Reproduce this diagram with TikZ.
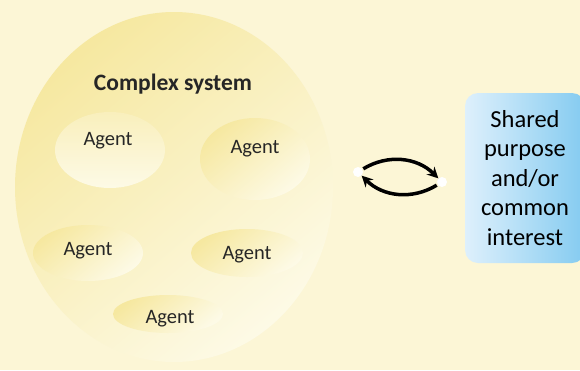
\documentclass[tikz,border=0pt]{standalone}
\usepackage{fontspec}
\setmainfont{Carlito}
\usepackage{tikz}
\usetikzlibrary{arrows.meta, shapes.geometric}
\definecolor{paper}{RGB}{252,246,214}
\definecolor{ylwdark}{RGB}{246,232,160}
\definecolor{ylwlight}{RGB}{253,250,230}
\definecolor{bluelight}{RGB}{222,240,252}
\definecolor{bluedark}{RGB}{132,203,240}
\begin{document}
\begin{tikzpicture}[x=1pt, y=-1pt, font=\fontsize{20.5}{24}\selectfont,
    blob/.style = {ellipse, inner sep=0pt, top color=ylwdark, bottom color=ylwlight, shading angle=40},
    word/.style = {text=black!85},
    goal/.style = {rounded corners=13pt, left color=bluelight, right color=bluedark, minimum width=120pt, minimum height=170pt, align=center, font=\fontsize{24.5}{29.5}\selectfont},
    dot/.style = {circle, fill=white, inner sep=0pt, minimum size=10pt},
    flow/.style = {line width=3.5pt, shorten <=1pt, -{Stealth[length=11pt, width=11pt]}}]
                \clip (0,0) rectangle (580,370);
                \fill[paper] (0,0) rectangle (580,370);
                \node[blob, minimum width=318pt, minimum height=350pt] (sys) at (174,187) {};
                \node[word, font=\fontsize{23.5}{28}\selectfont\bfseries] (title) at (173,84) {Complex system};
                \node[blob, minimum width=110pt, minimum height=76pt, top color=ylwdark!60!ylwlight] (a1) at (110,150) {};
                \node[blob, minimum width=110pt, minimum height=82pt] (a2) at (255,159) {};
                \node[blob, minimum width=110pt, minimum height=56pt] (a3) at (88,253) {};
                \node[blob, minimum width=112pt, minimum height=48pt] (a4) at (247,253) {};
                \node[blob, minimum width=110pt, minimum height=38pt] (a5) at (168,314) {};
                \node[word] (t1) at (108,141) {Agent};
                \node[word] (t2) at (255,149) {Agent};
                \node[word] (t3) at (88,251) {Agent};
                \node[word] (t4) at (247,255) {Agent};
                \node[word] (t5) at (170,319) {Agent};
                \node[goal] (share) at (525,178) {Shared\\purpose\\and/or\\common\\interest};
                \node[dot] (l) at (358,172) {};
                \node[dot] (r) at (442,182) {};
                \draw[flow] (l) to[bend left=38] (r);
                \draw[flow] (r) to[bend left=38] (l);
            \end{tikzpicture}
\end{document}
